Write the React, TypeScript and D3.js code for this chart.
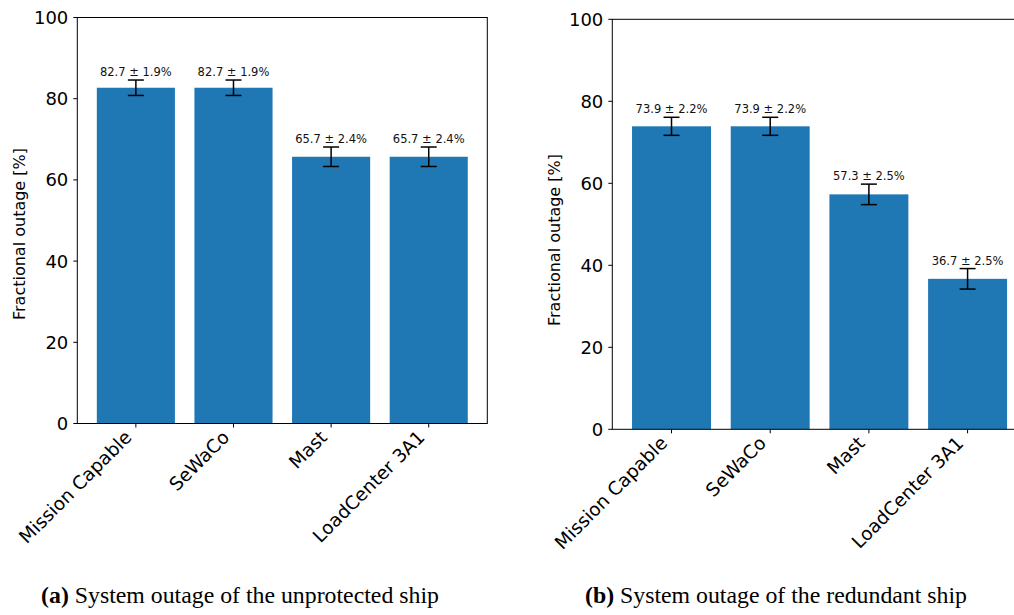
import React from "react";
import * as d3 from "d3";

const categories = ["Mission Capable", "SeWaCo", "Mast", "LoadCenter 3A1"];
const unprotectedValues = [82.7, 82.7, 65.7, 65.7];
const unprotectedErrors = [1.9, 1.9, 2.4, 2.4];
const redundantValues = [73.9, 73.9, 57.3, 36.7];
const redundantErrors = [2.2, 2.2, 2.5, 2.5];
const yTicks = [0, 20, 40, 60, 80, 100];
const yLabel = "Fractional outage [%]";

const W = 1014;
const H = 615;
const BAR_COLOR = "#1f77b4";
const SANS = "'DejaVu Sans', sans-serif";
const SERIF = "'Liberation Serif', 'Times New Roman', serif";

type PanelProps = {
  left: number;
  right: number;
  top: number;
  bottom: number;
  values: number[];
  errors: number[];
  labelBottom: number;
};

function Panel({ left, right, top, bottom, values, errors, labelBottom }: PanelProps) {
  const x = d3.scaleLinear().domain([-0.6, 3.6]).range([left, right]);
  const y = d3.scaleLinear().domain([0, 100]).range([bottom, top]);
  const bw = x(0.4) - x(-0.4);
  return (
    <g>
      {categories.map((c, i) => {
        const cx = x(i);
        const v = values[i];
        const e = errors[i];
        return (
          <g key={c}>
            <rect x={cx - bw / 2} y={y(v)} width={bw} height={y(0) - y(v)} fill={BAR_COLOR} />
            <line x1={cx} x2={cx} y1={y(v - e)} y2={y(v + e)} stroke="#000" strokeWidth={1.5} />
            <line x1={cx - 8} x2={cx + 8} y1={y(v - e)} y2={y(v - e)} stroke="#000" strokeWidth={1.5} />
            <line x1={cx - 8} x2={cx + 8} y1={y(v + e)} y2={y(v + e)} stroke="#000" strokeWidth={1.5} />
            <text
              x={cx}
              y={y(v + e) - 4}
              textAnchor="middle"
              fontFamily={SANS}
              fontSize={11.5}
              fill="#111"
            >
              {`${v.toFixed(1)} ± ${e.toFixed(1)}%`}
            </text>
            <line x1={cx} x2={cx} y1={bottom} y2={bottom + 4} stroke="#000" strokeWidth={1} />
            <text
              transform={`translate(${cx - 3},${bottom + 15}) rotate(-45)`}
              textAnchor="end"
              fontFamily={SANS}
              fontSize={18.5}
              fill="#000"
            >
              {c}
            </text>
          </g>
        );
      })}
      {yTicks.map((t) => (
        <g key={t}>
          <line x1={left - 4} x2={left} y1={y(t)} y2={y(t)} stroke="#000" strokeWidth={1} />
          <text
            x={left - 9}
            y={y(t)}
            dy="0.36em"
            textAnchor="end"
            fontFamily={SANS}
            fontSize={18}
            fill="#000"
          >
            {t}
          </text>
        </g>
      ))}
      <rect
        x={left}
        y={top}
        width={right - left}
        height={bottom - top}
        fill="none"
        stroke="#000"
        strokeWidth={1}
      />
      <text
        transform={`translate(${left - 52},${labelBottom}) rotate(-90)`}
        textAnchor="start"
        fontFamily={SANS}
        fontSize={16}
        fill="#000"
      >
        {yLabel}
      </text>
    </g>
  );
}

export default function App() {
  return (
    <svg
      width={W}
      height={H}
      viewBox={`0 0 ${W} ${H}`}
      style={{ position: "absolute", left: 0, top: 0, background: "#fff" }}
    >
      <rect x={0} y={0} width={W} height={H} fill="#fff" />
      <Panel
        left={77.3}
        right={487.3}
        top={17.5}
        bottom={423.5}
        values={unprotectedValues}
        errors={unprotectedErrors}
        labelBottom={320}
      />
      <Panel
        left={612.3}
        right={1026.8}
        top={19.3}
        bottom={429.3}
        values={redundantValues}
        errors={redundantErrors}
        labelBottom={326}
      />
      <text x={240} y={603} textAnchor="middle" fontFamily={SERIF} fontSize={23.8} fill="#000">
        <tspan fontWeight="bold">(a)</tspan> System outage of the unprotected ship
      </text>
      <text x={776} y={603} textAnchor="middle" fontFamily={SERIF} fontSize={23.8} fill="#000">
        <tspan fontWeight="bold">(b)</tspan> System outage of the redundant ship
      </text>
    </svg>
  );
}
